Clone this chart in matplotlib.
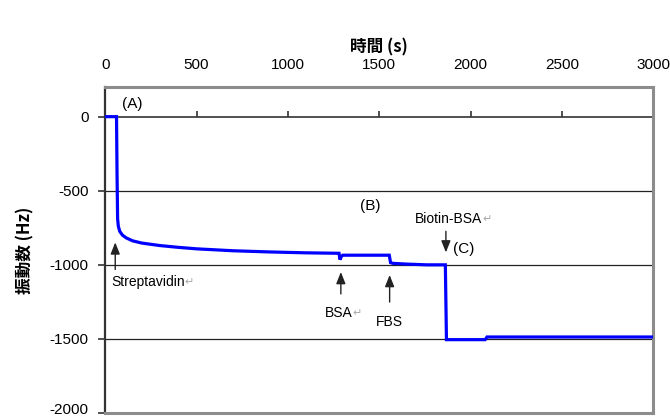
import matplotlib
matplotlib.use("Agg")
import matplotlib.pyplot as plt
import matplotlib.transforms as mtransforms

plt.rcParams['font.family'] = ['Liberation Sans', 'Noto Sans CJK JP', 'DejaVu Sans']

# Data (time s, frequency shift Hz)
time_s = [0, 62, 65, 68, 72, 80, 95, 115, 150, 200, 300, 400, 500, 700, 900, 1100, 1280,
          1285, 1292, 1300, 1555, 1562, 1575, 1650, 1760, 1862, 1868, 2080, 2090, 3000]
freq_hz = [0, 0, -400, -690, -740, -775, -800, -818, -838, -853, -870, -882, -892, -905, -913, -919, -922,
           -965, -945, -935, -935, -985, -990, -995, -1000, -1000, -1505, -1505, -1487, -1487]

x_ticks = [0, 500, 1000, 1500, 2000, 2500, 3000]
y_ticks = [0, -500, -1000, -1500, -2000]
grid_levels = [-500, -1000, -1500]

# labels: (text, x, y)
region_labels = [("(A)", 150, 85), ("(B)", 1450, -600), ("(C)", 1960, -890)]
# arrows: (text, text_x, text_y, arrow_x, tail_y, head_y, has_return_mark)
arrows = [
    ("Streptavidin", 235, -1115, 55, -1050, -830, True),
    ("BSA", 1280, -1325, 1290, -1215, -1030, True),
    ("FBS", 1557, -1385, 1557, -1270, -1050, False),
]
biotin = ("Biotin-BSA", 1880, -690, 1865, -755, -935)

fig = plt.figure(figsize=(6.7, 4.19), dpi=100)
ax = fig.add_axes([0.157, 0.0143, 0.818, 0.778])
ax.set_xlim(0, 3000)
ax.set_ylim(-2000, 200)

for g in grid_levels:
    ax.axhline(g, color='#222222', lw=0.9, zorder=1)

ax.plot(time_s, freq_hz, color='#0000ff', lw=2.3, zorder=3, solid_joinstyle='miter')

# spines
for s in ['top', 'right', 'bottom']:
    ax.spines[s].set_color('#8c8c8c')
    ax.spines[s].set_linewidth(2.2)
ax.spines['left'].set_color('#333333')
ax.spines['left'].set_linewidth(1.6)

# x tick labels on top, no tick marks there
ax.xaxis.tick_top()
ax.set_xticks(x_ticks)
ax.set_xticklabels([str(v) for v in x_ticks], fontsize=11)
ax.tick_params(axis='x', length=0, pad=10.5)
ax.set_xlabel('時間 (s)', fontsize=12, fontweight='bold', labelpad=4,
              family=['Noto Sans CJK JP', 'Liberation Sans'])
ax.xaxis.set_label_position('top')

# x axis line at y=0 with tick marks
sec = ax.secondary_xaxis(0, transform=ax.transData)
sec.set_xticks(x_ticks)
sec.set_xticklabels([])
sec.tick_params(axis='x', direction='in', length=4, width=1.2, color='#333333')
sec.spines['bottom'].set_color('#333333')
sec.spines['bottom'].set_linewidth(1.2)
if 'top' in sec.spines:
    sec.spines['top'].set_color('#333333')
    sec.spines['top'].set_linewidth(1.2)

ax.set_yticks(y_ticks)
ax.set_yticklabels([str(v) for v in y_ticks], fontsize=11)
ax.tick_params(axis='y', direction='out', length=5, width=1.2, color='#333333', pad=7)
ax.set_ylabel('振動数 (Hz)', fontsize=12, fontweight='bold', labelpad=11,
              family=['Noto Sans CJK JP', 'Liberation Sans'])

# nudge the lowest y tick label up so it is not clipped by the figure edge
lowest = ax.get_yticklabels()[-1]
lowest.set_transform(lowest.get_transform() +
                     mtransforms.ScaledTranslation(0, 3 / 72, fig.dpi_scale_trans))

for txt, x, y in region_labels:
    ax.text(x, y, txt, fontsize=11, ha='center', va='center', zorder=5)

for txt, tx, ty, axx, tail, head, ret in arrows:
    ax.annotate('', xy=(axx, head), xytext=(axx, tail),
                arrowprops=dict(arrowstyle='-|>,head_width=0.28,head_length=0.7',
                                color='#222222', lw=1.0), zorder=5)
    t = ax.text(tx, ty, txt, fontsize=10, ha='center', va='center', zorder=5)
    if ret:
        ax.annotate('↵', xy=(1, 0.5), xycoords=t, fontsize=8, color='#aaaaaa',
                    ha='left', va='center', family='DejaVu Sans')

txt, tx, ty, axx, tail, head = biotin
t = ax.text(tx, ty, txt, fontsize=10, ha='center', va='center', zorder=5)
ax.annotate('↵', xy=(1, 0.5), xycoords=t, fontsize=8, color='#aaaaaa',
            ha='left', va='center', family='DejaVu Sans')
ax.annotate('', xy=(axx, head), xytext=(axx, tail),
            arrowprops=dict(arrowstyle='-|>,head_width=0.28,head_length=0.7',
                            color='#222222', lw=1.0), zorder=5)

fig.savefig('out.png', dpi=100)
